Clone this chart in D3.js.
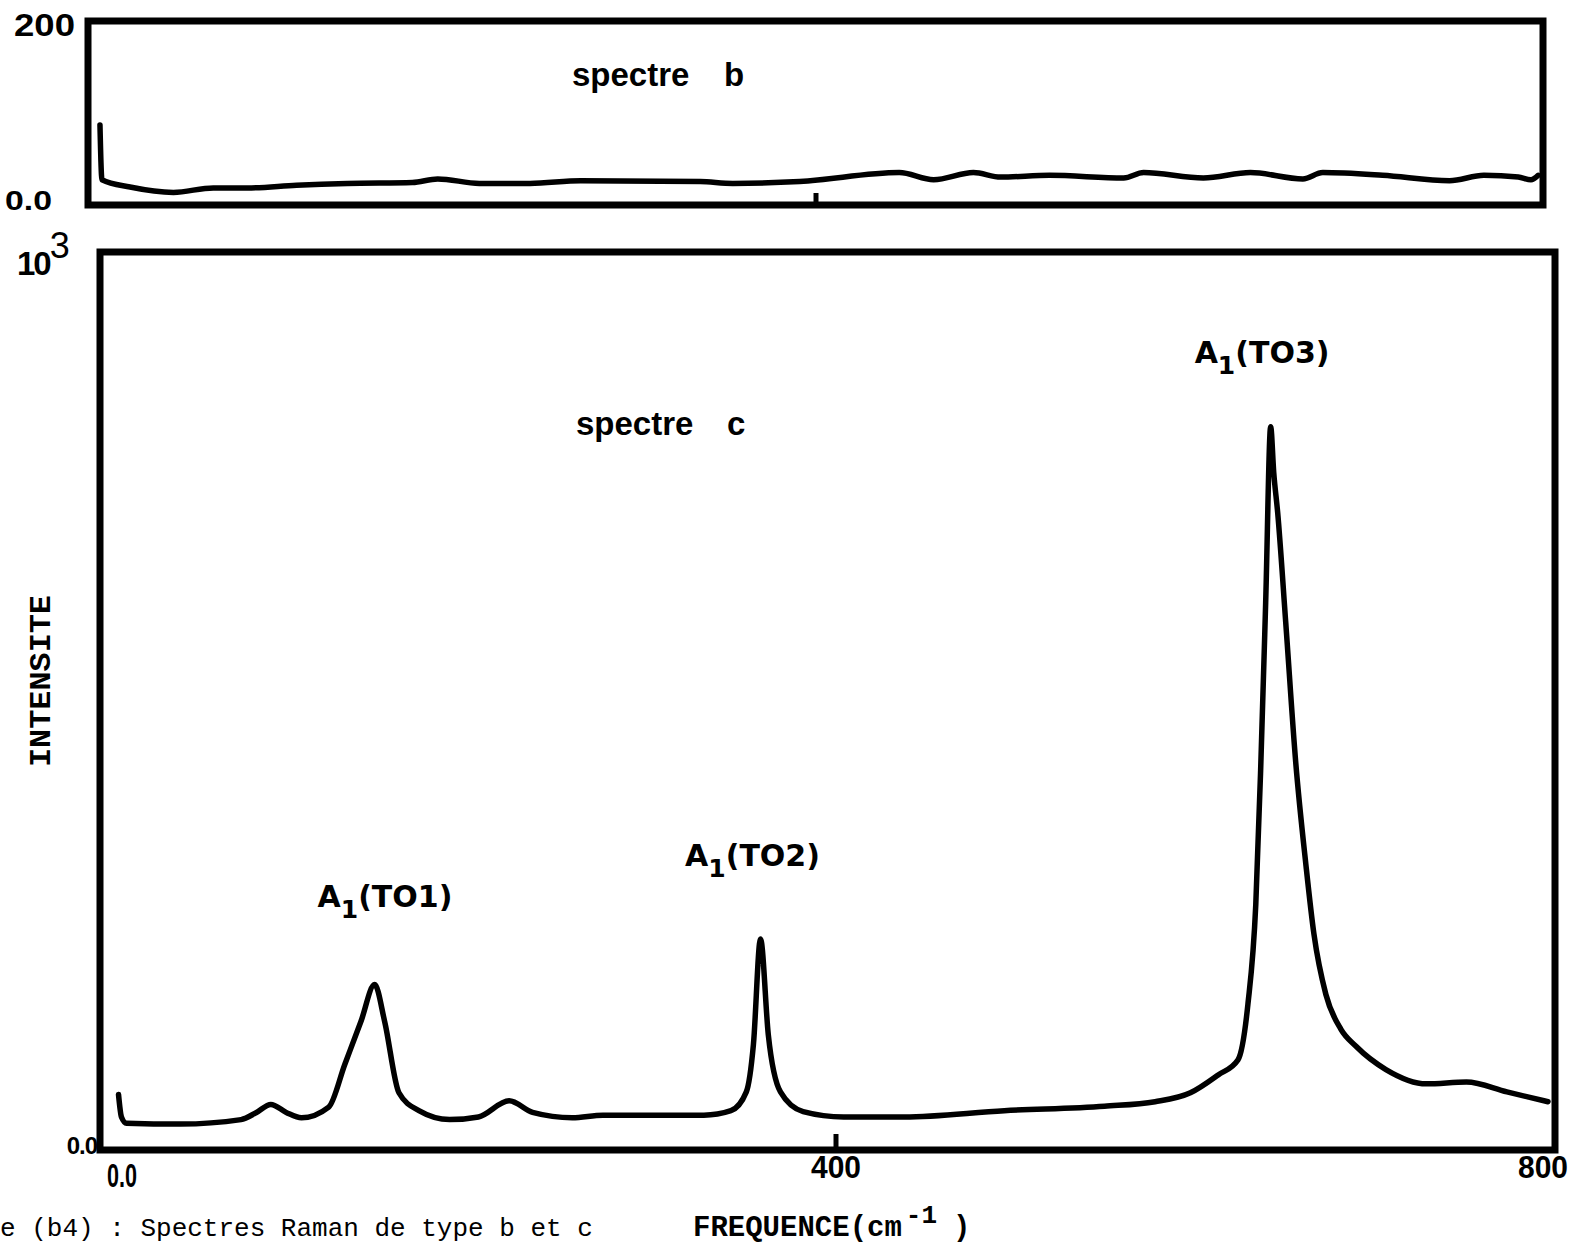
<!DOCTYPE html>
<html>
<head>
<meta charset="utf-8">
<script src="https://cdn.jsdelivr.net/npm/d3@7"></script>
<style>
  body { margin: 0; background: #fff; }
  svg { display: block; }
  .frame { fill: none; stroke: #000; stroke-width: 7; }
  .curve { fill: none; stroke: #000; stroke-width: 5.5; stroke-linejoin: round; stroke-linecap: round; }
  .sans { font-family: "Liberation Sans", Arial, sans-serif; fill: #000; }
  .mono { font-family: "Liberation Mono", "Courier New", monospace; fill: #000; }
</style>
</head>
<body>
<svg width="1575" height="1245"></svg>
<script>
// spectre b (top panel) : frequency (cm-1) / intensity
var freqB = [4.4, 5.5, 21, 45, 67, 86, 113, 141, 177, 191, 214, 242, 270, 336, 354, 391, 446, 465, 487, 502, 529, 570, 581, 614, 640, 669, 680, 713, 750, 769, 788, 795, 799];
var intensB = [89, 28, 20, 14, 19, 19, 22, 24, 25, 29, 24, 24, 27, 26, 24, 26, 36, 28, 36, 31, 33, 30, 36, 30, 36, 29, 36, 33, 27, 33, 31, 28, 33];

// spectre c (bottom panel)
var freqC = [4.7, 6.3, 9.1, 39, 72.2, 80.7, 88.6, 97.1, 105.5, 120.5, 129.4, 138.3, 145.8, 151.3, 159.2, 170.2, 187.1, 203, 219.9, 232.8, 254.7, 271.6, 299.4, 327.2, 342.1, 350.6, 354.5, 358.4, 362.7, 369.4, 381.9, 404.3, 438.1, 493.9, 549.8, 578, 597.7, 613.2, 624.3, 629.8, 634.2, 636.9, 639.7, 642.5, 644.2, 646.4, 650.9, 656.5, 662.1, 666.6, 673.3, 681.7, 690.1, 706.8, 729.4, 751.7, 774.3, 797.2];
var intensC = [62, 37, 30, 29, 34, 42, 51, 42, 36, 48, 96, 144, 185, 144, 64, 44, 34, 37, 55, 42, 36, 39, 39, 39, 44, 65, 118, 236, 129, 65, 43, 37, 37, 44, 49, 54, 64, 84, 101, 163, 275, 425, 612, 809, 758, 713, 590, 433, 320, 242, 174, 135, 116, 90, 74, 76, 65, 54];

var xTickLabels = ["0.0", "400", "800"];
var xTickValues = [0, 400, 800];
var peakNames = ["TO1", "TO2", "TO3"];
var peakLabelFreq = [151.5, 354, 637.7];
var peakLabelY = [272, 318, 880];

var svg = d3.select("svg");

// panels
var upper = {x: d3.scaleLinear().domain([0, 800]).range([92, 1540]),
             y: d3.scaleLinear().domain([0, 200]).range([205, 25])};
var lower = {x: d3.scaleLinear().domain([0, 400, 800]).range([110, 836, 1553]),
             y: d3.scaleLinear().domain([0, 1000]).range([1150, 256])};

// frames
svg.append("rect").attr("class", "frame")
  .attr("x", 88).attr("y", 21).attr("width", 1543 - 88).attr("height", upper.y(0) - 21);
svg.append("rect").attr("class", "frame")
  .attr("x", 100).attr("y", 252).attr("width", 1555 - 100).attr("height", lower.y(0) - 252);

// inner ticks at 400
svg.append("line").attr("x1", upper.x(400)).attr("x2", upper.x(400))
  .attr("y1", upper.y(0)).attr("y2", upper.y(0) - 12).attr("stroke", "#000").attr("stroke-width", 5);
svg.append("line").attr("x1", lower.x(400)).attr("x2", lower.x(400))
  .attr("y1", lower.y(0)).attr("y2", lower.y(0) - 16).attr("stroke", "#000").attr("stroke-width", 5);

// curves
function drawCurve(fx, fy, axes) {
  var pts = fx.map(function(f, i) { return [f, fy[i]]; });
  var line = d3.line()
    .x(function(d) { return axes.x(d[0]); })
    .y(function(d) { return axes.y(d[1]); })
    .curve(d3.curveMonotoneX);
  svg.append("path").attr("class", "curve").attr("d", line(pts));
}
drawCurve(freqB, intensB, upper);
drawCurve(freqC, intensC, lower);

// y labels top panel
svg.append("text").attr("class", "sans").style("font-weight", "900").attr("x", 14).attr("y", 36)
  .attr("font-size", 31).attr("textLength", 61).attr("lengthAdjust", "spacingAndGlyphs").text("200");
svg.append("text").attr("class", "sans").style("font-weight", "900").attr("x", 5).attr("y", 210)
  .attr("font-size", 27).attr("textLength", 47).attr("lengthAdjust", "spacingAndGlyphs").text("0.0");

// y labels bottom panel
var t3 = svg.append("text").attr("class", "sans").style("font-weight", "bold")
  .attr("x", 17).attr("y", 275).attr("font-size", 33).attr("letter-spacing", -2);
t3.append("tspan").text("10");
t3.append("tspan").attr("dy", -17).attr("font-size", 36).style("font-weight", "normal").text("3");
svg.append("text").attr("class", "sans").style("font-weight", "bold").attr("x", 97).attr("y", 1154)
  .attr("text-anchor", "end").attr("font-size", 24).attr("letter-spacing", -1).text("0.0");

// x tick labels
svg.selectAll("text.xt").data(xTickValues).enter().append("text")
  .attr("class", "sans xt").style("font-weight", "bold")
  .attr("x", function(d, i) { return i === 0 ? lower.x(d) - 3 : (i === 2 ? lower.x(d) + 15 : lower.x(d)); })
  .attr("y", function(d, i) { return i === 0 ? 1187 : 1178; })
  .attr("text-anchor", function(d, i) { return i === 0 ? "start" : (i === 2 ? "end" : "middle"); })
  .attr("font-size", function(d, i) { return i === 0 ? 33 : 32; })
  .attr("textLength", function(d, i) { return i === 0 ? 30 : 50; })
  .attr("lengthAdjust", "spacingAndGlyphs")
  .text(function(d, i) { return xTickLabels[i]; });

// panel titles
var tb = svg.append("text").attr("class", "sans").style("font-weight", "bold")
  .attr("x", 572).attr("y", 86).attr("font-size", 33);
tb.append("tspan").text("spectre");
tb.append("tspan").attr("x", 724).text("b");
var tc = svg.append("text").attr("class", "sans").style("font-weight", "bold")
  .attr("x", 576).attr("y", 435).attr("font-size", 33);
tc.append("tspan").text("spectre");
tc.append("tspan").attr("x", 727).text("c");

// peak labels
peakNames.forEach(function(name, i) {
  var t = svg.append("text").attr("class", "sans")
    .attr("x", lower.x(peakLabelFreq[i])).attr("y", lower.y(peakLabelY[i]))
    .attr("text-anchor", "middle").attr("font-size", 30)
    .style("font-family", "'DejaVu Sans', sans-serif").style("font-weight", "bold");
  t.append("tspan").text("A");
  t.append("tspan").attr("dy", 11).attr("font-size", 25).text("1");
  t.append("tspan").attr("dy", -11).text("(" + name + ")");
});

// axis titles
svg.append("text").attr("class", "mono").style("font-weight", "bold")
  .attr("transform", "translate(50,681) rotate(-90)")
  .attr("text-anchor", "middle").attr("font-size", 29)
  .attr("textLength", 172).attr("lengthAdjust", "spacingAndGlyphs").text("INTENSITE");

var ft = svg.append("text").attr("class", "mono").style("font-weight", "bold")
  .attr("x", 693).attr("y", 1236).attr("font-size", 29);
ft.append("tspan").text("FREQUENCE(cm");
ft.append("tspan").attr("dx", 4).attr("dy", -13).attr("font-size", 26).text("-1");
ft.append("tspan").attr("dx", 16).attr("dy", 13).text(")");

svg.append("text").attr("class", "mono").attr("x", 0).attr("y", 1236)
  .attr("font-size", 26).text("e (b4) : Spectres Raman de type b et c");
</script>
</body>
</html>
